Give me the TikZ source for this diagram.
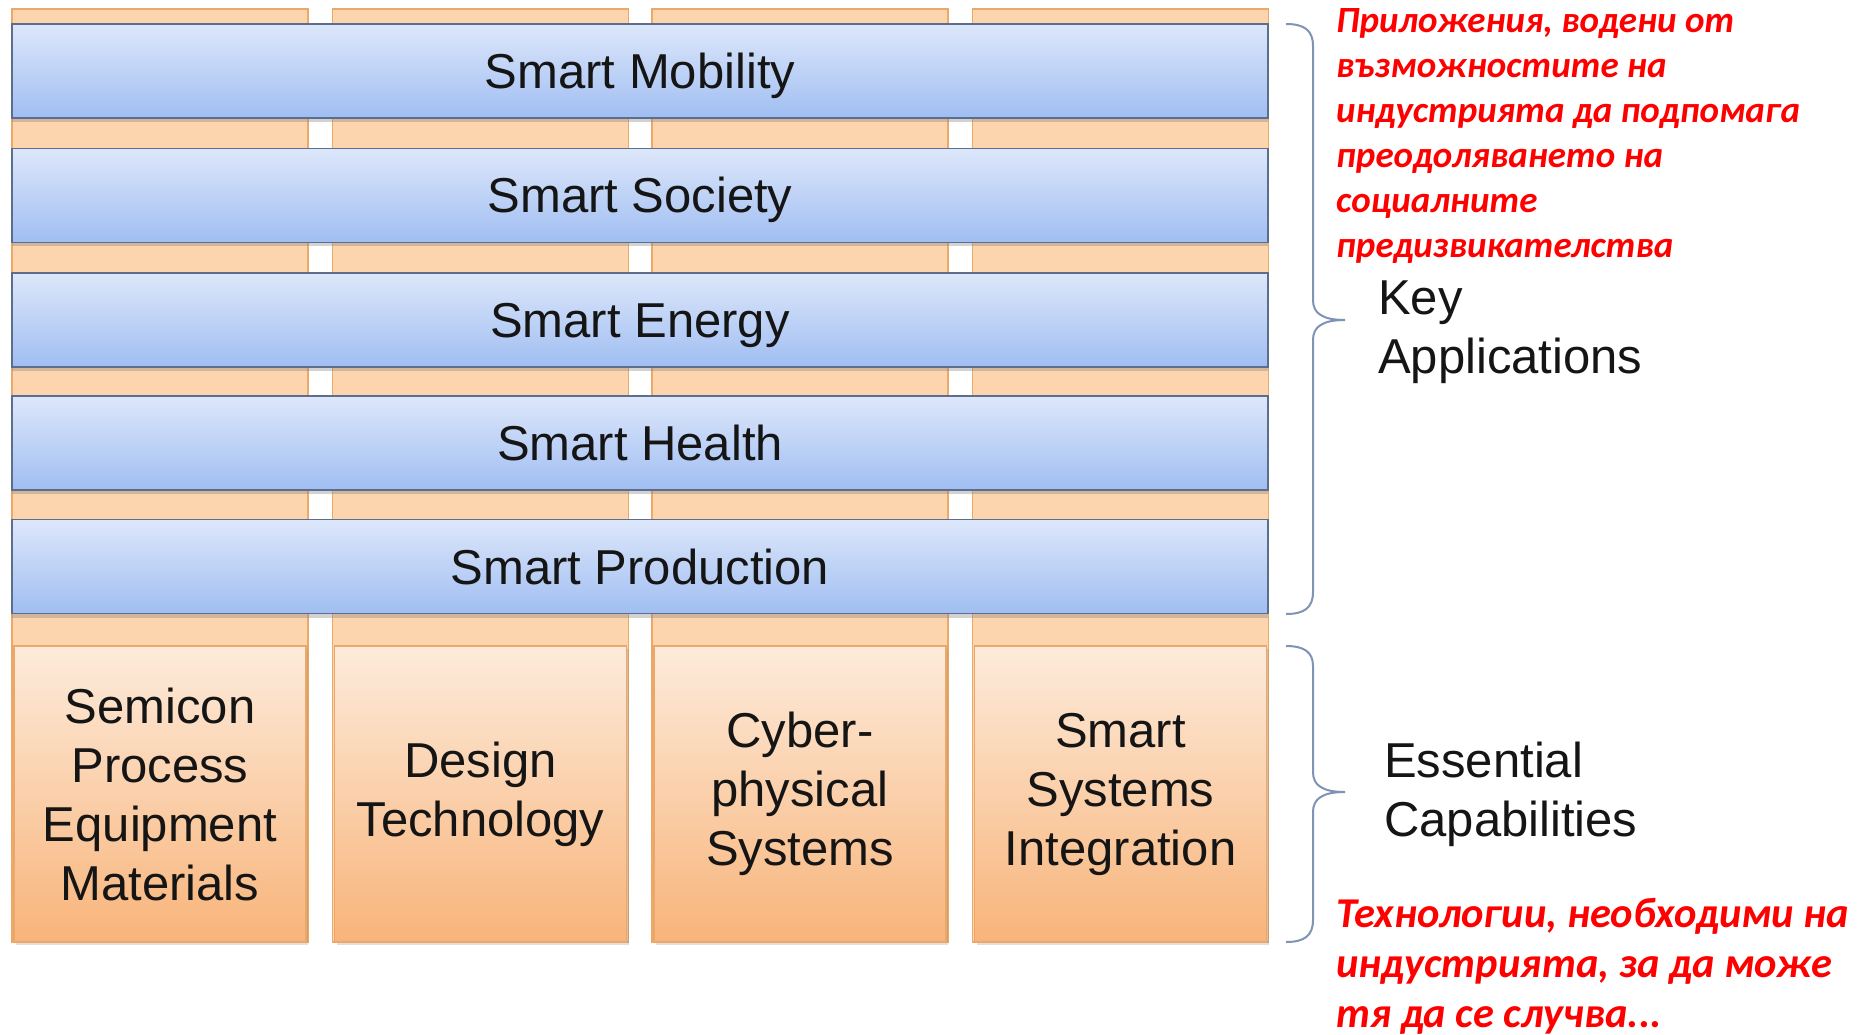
\documentclass[tikz,border=0pt]{standalone}
\usepackage{fontspec}
\setmainfont{Liberation Sans}
\newfontfamily\redfont{Carlito}
\usetikzlibrary{shadows}
\definecolor{barTop}{HTML}{DDE7FA}
\definecolor{barBot}{HTML}{A0BEF2}
\definecolor{barEdge}{HTML}{5C6E8C}
\definecolor{colFill}{HTML}{FCD4AE}
\definecolor{colEdge}{HTML}{EBA868}
\definecolor{capTop}{HTML}{FDEBDB}
\definecolor{capBot}{HTML}{F8B47A}
\definecolor{braceCol}{HTML}{7F93B5}
\definecolor{noteRed}{HTML}{FF0000}
\definecolor{txt}{HTML}{151515}
\begin{document}
\begin{tikzpicture}[x=1pt,y=-1pt,
  colbox/.style={draw=colEdge, line width=1.5pt, fill=colFill, minimum width=296pt, minimum height=933pt, inner sep=0pt},
  capbox/.style={draw=colEdge, line width=1.5pt, top color=capTop, bottom color=capBot, minimum width=292pt, minimum height=296pt, inner sep=0pt, align=center, text=txt, font=\fontsize{49}{59}\selectfont, drop shadow={shadow xshift=2pt, shadow yshift=-3pt, opacity=0.25}},
  bar/.style={draw=barEdge, line width=1.5pt, top color=barTop, bottom color=barBot, minimum width=1256pt, minimum height=94pt, inner sep=0pt, text height=36pt, text depth=1pt, text=txt, font=\fontsize{49}{59}\selectfont, drop shadow={shadow xshift=0pt, shadow yshift=-4pt, opacity=0.35}},
  bracestyle/.style={draw=braceCol, line width=2pt},
  sidelabel/.style={anchor=west, align=left, text=txt, font=\fontsize{49}{59}\selectfont, inner sep=0pt},
  note/.style={anchor=north west, align=left, text=noteRed, inner sep=0pt}
]
\useasboundingbox (0,0) rectangle (1858,1035);
\fill[white] (0,0) rectangle (1858,1035);

% orange columns
\node[colbox] (c1) at (160,475.5) {};
\node[colbox] (c2) at (480.5,475.5) {};
\node[colbox] (c3) at (800,475.5) {};
\node[colbox] (c4) at (1120.5,475.5) {};

% essential capabilities
\node[capbox] (k1) at (160,794) {Semicon\\Process\\Equipment\\Materials};
\node[capbox] (k2) at (480.5,794) {Design\\Technology};
\node[capbox] (k3) at (800,794) {Cyber-\\physical\\Systems};
\node[capbox] (k4) at (1120.5,794) {Smart\\Systems\\Integration};

% key application bars
\node[bar] (b1) at (640,71) {Smart Mobility};
\node[bar] (b2) at (640,195.5) {Smart Society};
\node[bar] (b3) at (640,320) {Smart Energy};
\node[bar] (b4) at (640,443) {Smart Health};
\node[bar] (b5) at (640,566.5) {Smart Production};

% braces
\draw[bracestyle] (1286,24) .. controls (1304,24) and (1313,30) .. (1313,46) -- (1313,300)
  .. controls (1313,313) and (1322,320) .. (1345,320)
  .. controls (1322,320) and (1313,327) .. (1313,340) -- (1313,592)
  .. controls (1313,608) and (1304,614) .. (1286,614);
\draw[bracestyle] (1286,646) .. controls (1304,646) and (1313,652) .. (1313,666) -- (1313,772)
  .. controls (1313,785) and (1322,792) .. (1345,792)
  .. controls (1322,792) and (1313,799) .. (1313,812) -- (1313,920)
  .. controls (1313,936) and (1304,942) .. (1286,942);

% side labels
\node[sidelabel] (ka) at (1378,332) {Key\\Applications};
\node[sidelabel] (ec) at (1384,794) {Essential\\Capabilities};

% red notes
\node[note, font=\redfont\bfseries\itshape\fontsize{37}{45}\selectfont] (n1) at (1336,8)
  {Приложения, водени от\\възможностите на\\индустрията да подпомага\\преодоляването на\\социалните\\предизвикателства};
\node[note, font=\redfont\bfseries\itshape\fontsize{42.5}{50}\selectfont] (n2) at (1336,898)
  {Технологии, необходими на\\индустрията, за да може\\тя да се случва...};
\end{tikzpicture}
\end{document}
